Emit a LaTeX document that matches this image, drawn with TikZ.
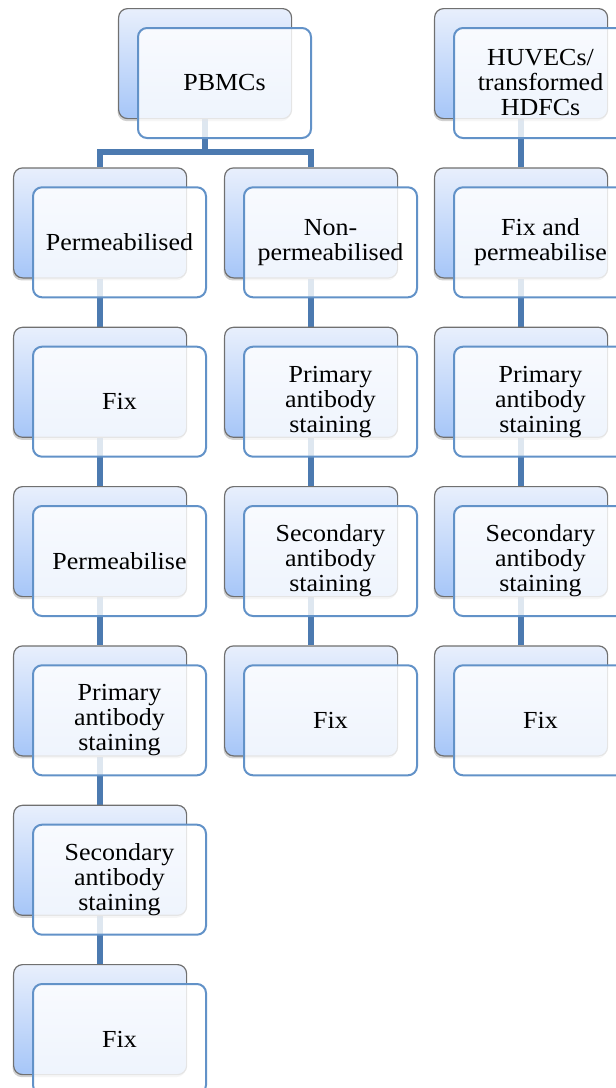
\documentclass[tikz,border=0pt]{standalone}
\usepackage{fontspec}
\setmainfont[FakeStretch=1.06]{Liberation Serif}
\usetikzlibrary{shadows}
\pgfdeclarelayer{bg}
\pgfsetlayers{bg,main}
\definecolor{conn}{RGB}{76,122,176}
\definecolor{fborder}{RGB}{98,146,200}
\definecolor{btop}{RGB}{232,239,252}
\definecolor{bbot}{RGB}{166,198,248}
\definecolor{bborder}{RGB}{112,112,112}
\tikzset{
  backbox/.style={draw=bborder, line width=1.2pt, rounded corners=9pt,
    top color=btop, bottom color=bbot, minimum width=173pt, minimum height=110pt,
    inner sep=0pt, anchor=north west,
    drop shadow={shadow xshift=-1pt, shadow yshift=-2.5pt, opacity=0.3, fill=black!60}},
  frontbox/.style={draw=fborder, line width=2pt, rounded corners=9pt,
    fill=white, fill opacity=0.82, text opacity=1, draw opacity=1,
    minimum width=173pt, minimum height=110pt, inner sep=0pt, anchor=north west,
    align=center, font=\fontsize{24.5}{25}\selectfont},
  link/.style={draw=conn, line width=5.5pt}
}
\begin{document}
\begin{tikzpicture}[x=1pt,y=-1pt]
\useasboundingbox (0,0) rectangle (616,1088);
\clip (0,0) rectangle (616,1088);
% PBMCs
\node[backbox] (bP) at (118,8) {};
\node[frontbox] (fP) at (137,27) {PBMCs};
% left column
\node[backbox] (bL1) at (13,167.3) {};
\node[frontbox] (fL1) at (32,186.3) {Permeabilised};
\node[backbox] (bL2) at (13,326.7) {};
\node[frontbox] (fL2) at (32,345.7) {Fix};
\node[backbox] (bL3) at (13,486) {};
\node[frontbox] (fL3) at (32,505) {Permeabilise};
\node[backbox] (bL4) at (13,645.3) {};
\node[frontbox] (fL4) at (32,664.3) {Primary\\antibody\\staining};
\node[backbox] (bL5) at (13,804.7) {};
\node[frontbox] (fL5) at (32,823.7) {Secondary\\antibody\\staining};
\node[backbox] (bL6) at (13,964) {};
\node[frontbox] (fL6) at (32,983) {Fix};
% middle column
\node[backbox] (bM1) at (224,167.3) {};
\node[frontbox] (fM1) at (243,186.3) {Non-\\permeabilised};
\node[backbox] (bM2) at (224,326.7) {};
\node[frontbox] (fM2) at (243,345.7) {Primary\\antibody\\staining};
\node[backbox] (bM3) at (224,486) {};
\node[frontbox] (fM3) at (243,505) {Secondary\\antibody\\staining};
\node[backbox] (bM4) at (224,645.3) {};
\node[frontbox] (fM4) at (243,664.3) {Fix};
% right column
\node[backbox] (bH) at (434,8) {};
\node[frontbox] (fH) at (453,27) {HUVECs/\\transformed\\HDFCs};
\node[backbox] (bR1) at (434,167.3) {};
\node[frontbox] (fR1) at (453,186.3) {Fix and\\permeabilise};
\node[backbox] (bR2) at (434,326.7) {};
\node[frontbox] (fR2) at (453,345.7) {Primary\\antibody\\staining};
\node[backbox] (bR3) at (434,486) {};
\node[frontbox] (fR3) at (453,505) {Secondary\\antibody\\staining};
\node[backbox] (bR4) at (434,645.3) {};
\node[frontbox] (fR4) at (453,664.3) {Fix};
% connectors
\begin{pgfonlayer}{bg}
\coordinate (split) at (bP.south |- 0,152);
\draw[link] (bP.south) -- (split);
\draw[link] (split) -| (bL1.north);
\draw[link] (split) -| (bM1.north);
\draw[link] (bL1.south) -- (bL2.north);
\draw[link] (bL2.south) -- (bL3.north);
\draw[link] (bL3.south) -- (bL4.north);
\draw[link] (bL4.south) -- (bL5.north);
\draw[link] (bL5.south) -- (bL6.north);
\draw[link] (bM1.south) -- (bM2.north);
\draw[link] (bM2.south) -- (bM3.north);
\draw[link] (bM3.south) -- (bM4.north);
\draw[link] (bH.south) -- (bR1.north);
\draw[link] (bR1.south) -- (bR2.north);
\draw[link] (bR2.south) -- (bR3.north);
\draw[link] (bR3.south) -- (bR4.north);
\end{pgfonlayer}
\end{tikzpicture}
\end{document}
